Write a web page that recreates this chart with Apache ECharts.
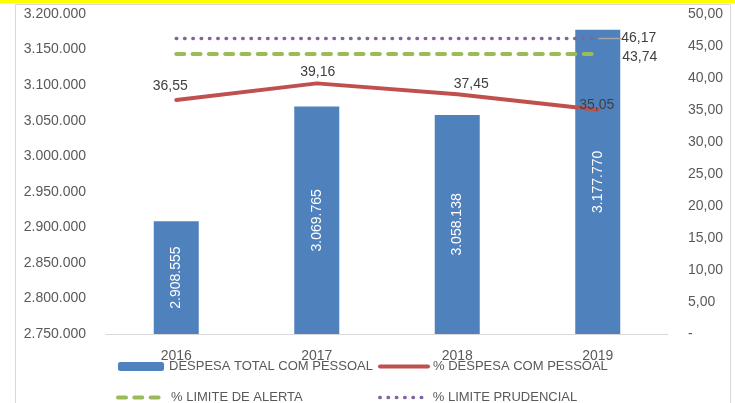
<!DOCTYPE html>
<html>
<head>
<meta charset="utf-8">
<script src="https://cdn.jsdelivr.net/npm/echarts@6/dist/echarts.min.js"></script>
<style>
  html, body { margin: 0; padding: 0; background: #ffffff; }
  #chart { width: 735px; height: 403px; }
</style>
</head>
<body>
<div id="chart"></div>
<script>
// ---- data ----
const categories = ['2016', '2017', '2018', '2019'];
const despesaTotal = [2908555, 3069765, 3058138, 3177770];
const pctDespesa = [36.55, 39.16, 37.45, 35.05];
const limiteAlerta = [43.74, 43.74, 43.74, 43.74];
const limitePrudencial = [46.17, 46.17, 46.17, 46.17];
const leftMin = 2750000, leftMax = 3200000, leftStep = 50000;
const rightMin = 0, rightMax = 50, rightStep = 5;
const seriesNames = ['DESPESA TOTAL COM PESSOAL', '% DESPESA COM PESSOAL', '% LIMITE DE ALERTA', '% LIMITE PRUDENCIAL'];

// ---- style config ----
const FONT = 'Liberation Sans';
const GRAY = '#595959';
const CLEAR = 'rgba(0,0,0,0)';
const redLabelOffsets = [[-6, -1], [1, 1], [14, 2], [-1, 8]];
const legendLineWidths = [0, 4, 4, 3.5];

function fmtThousands(n) {
  return String(Math.round(n)).replace(/\B(?=(\d{3})+(?!\d))/g, '.');
}
function fmtPct(v) {
  return v.toFixed(2).replace('.', ',');
}
const last = categories.length - 1;

function legendAt(idx, left, top) {
  const isBar = idx === 0;
  const lg = {
    data: [seriesNames[idx]], left: left, top: top, padding: 0,
    itemWidth: isBar ? 46 : 48, itemHeight: 9, itemGap: 0,
    itemStyle: { opacity: isBar ? 1 : 0 },
    textStyle: { color: GRAY, fontSize: 13, fontFamily: FONT },
    selectedMode: false
  };
  if (!isBar) lg.lineStyle = { width: legendLineWidths[idx] };
  return lg;
}

const chart = echarts.init(document.getElementById('chart'), null, { renderer: 'canvas' });
chart.setOption({
  animation: false,
  backgroundColor: '#ffffff',
  textStyle: { fontFamily: FONT },
  graphic: [
    { type: 'rect', shape: { x: 0, y: 0, width: 735, height: 3 }, style: { fill: '#ffff00' }, z: 100 },
    { type: 'rect', shape: { x: 15.5, y: 4.5, width: 715, height: 420 }, style: { fill: 'none', stroke: '#d9d9d9', lineWidth: 1 }, z: -1 }
  ],
  grid: { left: 106, right: 67, top: 14, bottom: 69, containLabel: false },
  legend: [
    legendAt(0, 118, 360),
    legendAt(1, 378, 360),
    legendAt(2, 116, 391),
    legendAt(3, 378, 391)
  ],
  xAxis: {
    type: 'category',
    data: categories,
    axisLine: { show: true, lineStyle: { color: '#d9d9d9', width: 1 } },
    axisTick: { show: false },
    axisLabel: { color: GRAY, fontSize: 14, fontFamily: FONT, margin: 15 },
    splitLine: { show: false }
  },
  yAxis: [
    {
      type: 'value', min: leftMin, max: leftMax, interval: leftStep,
      axisLine: { show: false }, axisTick: { show: false }, splitLine: { show: false },
      axisLabel: { color: GRAY, fontSize: 14, fontFamily: FONT, margin: 20, formatter: fmtThousands }
    },
    {
      type: 'value', min: rightMin, max: rightMax, interval: rightStep, position: 'right',
      axisLine: { show: false }, axisTick: { show: false }, splitLine: { show: false },
      axisLabel: { color: GRAY, fontSize: 14, fontFamily: FONT, margin: 20,
        formatter: v => (v === 0 ? '-' : fmtPct(v)) }
    }
  ],
  series: [
    {
      name: seriesNames[0], type: 'bar', yAxisIndex: 0, data: despesaTotal,
      barWidth: 45,
      itemStyle: { color: '#4f81bd' },
      label: { show: true, position: 'inside', rotate: 90, color: '#ffffff', fontSize: 14, fontFamily: FONT,
        formatter: p => fmtThousands(p.value) }
    },
    {
      name: seriesNames[1], type: 'line', yAxisIndex: 1,
      data: pctDespesa.map((v, i) => ({ value: v, label: { offset: redLabelOffsets[i] } })),
      symbol: 'circle', symbolSize: 1, showSymbol: true,
      lineStyle: { color: '#c0504d', width: 4, cap: 'round' },
      itemStyle: { color: CLEAR },
      label: { show: true, position: 'top', distance: 5, color: '#404040', fontSize: 14, fontFamily: FONT,
        formatter: p => fmtPct(p.value) },
      z: 5
    },
    {
      name: seriesNames[2], type: 'line', yAxisIndex: 1,
      data: limiteAlerta.map((v, i) => ({ value: v,
        label: { show: i === last, position: 'right', distance: 24, offset: [0, 3] } })),
      symbol: 'circle', symbolSize: 1, showSymbol: true,
      lineStyle: { color: '#9bbb59', width: 4, type: [8, 8.3], cap: 'round' },
      itemStyle: { color: CLEAR },
      label: { show: false, color: '#404040', fontSize: 14, fontFamily: FONT, formatter: p => fmtPct(p.value) },
      z: 4
    },
    {
      name: seriesNames[3], type: 'line', yAxisIndex: 1,
      data: limitePrudencial.map((v, i) => ({ value: v,
        label: { show: i === last, position: 'right', distance: 4 },
        labelLine: { show: i === last } })),
      symbol: 'circle', symbolSize: 1, showSymbol: true,
      lineStyle: { color: '#8064a2', width: 3.5, type: [0.5, 7.8], cap: 'round' },
      itemStyle: { color: CLEAR },
      label: { show: false, color: '#404040', fontSize: 14, fontFamily: FONT, formatter: p => fmtPct(p.value) },
      labelLine: { show: false, lineStyle: { color: '#a6a6a6', width: 1.5 } },
      labelLayout: p => (p.dataIndex === last ? { dx: 19 } : {}),
      z: 4
    }
  ]
});
</script>
</body>
</html>
